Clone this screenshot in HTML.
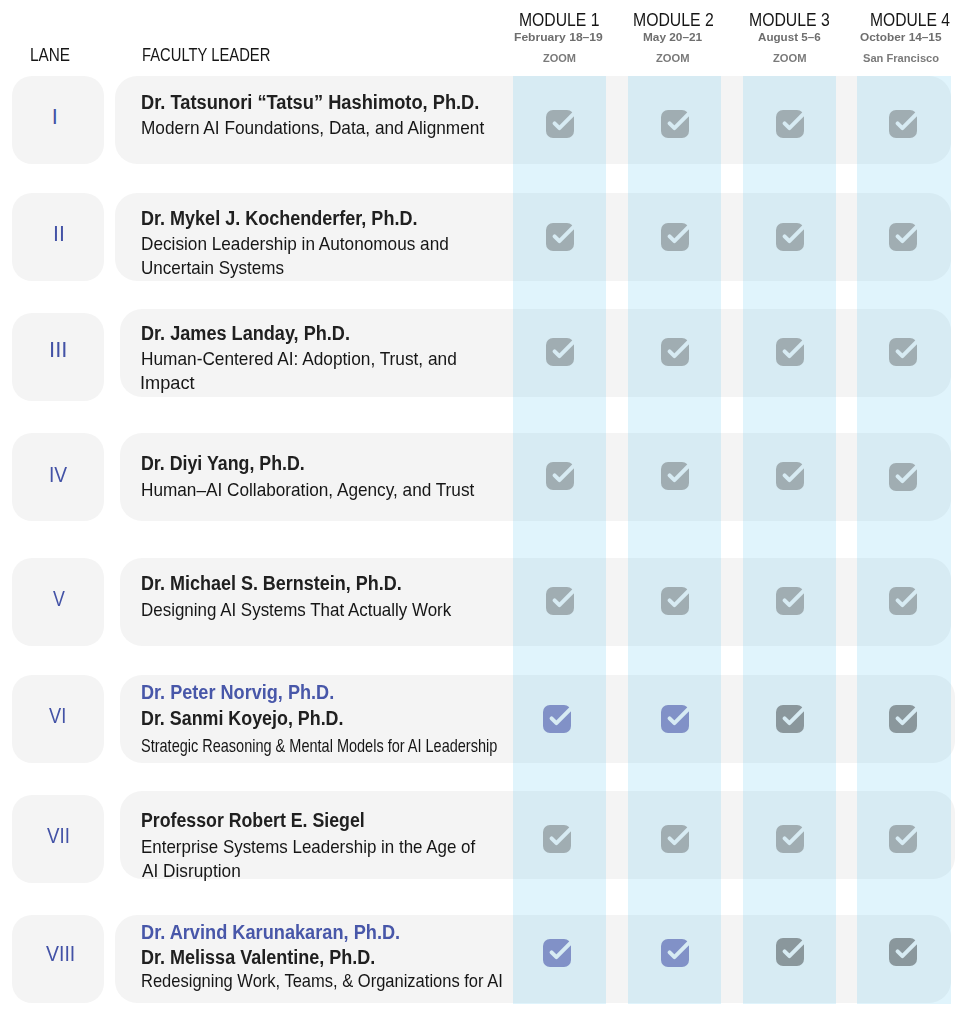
<!DOCTYPE html>
<html><head><meta charset="utf-8"><style>
html,body{margin:0;padding:0;background:#fff;}
body{width:966px;height:1024px;position:relative;overflow:hidden;font-family:"Liberation Sans",sans-serif;}
.t{position:absolute;white-space:nowrap;line-height:1;transform-origin:0 0;}
.lb{position:absolute;left:12px;width:92px;height:88px;border-radius:20px;background:#f4f4f4;}
.fb{position:absolute;height:88px;border-radius:22px;background:#f4f4f4;}
.band{position:absolute;top:76px;height:928px;background:rgba(72,190,237,0.17);}
.ic{position:absolute;width:28px;height:28px;}
</style></head><body>

<div class="fb" style="left:115px;top:76px;width:836px"></div>
<div class="fb" style="left:115px;top:193px;width:836px"></div>
<div class="fb" style="left:120px;top:309px;width:831px"></div>
<div class="fb" style="left:120px;top:433px;width:831px"></div>
<div class="fb" style="left:120px;top:558px;width:831px"></div>
<div class="fb" style="left:120px;top:675px;width:835px"></div>
<div class="fb" style="left:120px;top:791px;width:835px"></div>
<div class="fb" style="left:115px;top:915px;width:836px"></div>
<div class="lb" style="top:76px"></div>
<div class="lb" style="top:193px"></div>
<div class="lb" style="top:313px"></div>
<div class="lb" style="top:433px"></div>
<div class="lb" style="top:558px"></div>
<div class="lb" style="top:675px"></div>
<div class="lb" style="top:795px"></div>
<div class="lb" style="top:915px"></div>
<div class="band" style="left:513px;width:93px"></div>
<div class="band" style="left:628px;width:93px"></div>
<div class="band" style="left:743px;width:93px"></div>
<div class="band" style="left:857px;width:94px"></div>
<svg width="0" height="0" style="position:absolute"><defs><mask id="ck" maskUnits="userSpaceOnUse" x="-2" y="-2" width="32" height="32"><rect x="-2" y="-2" width="32" height="32" fill="#fff"/><path d="M8.6 13.3L13.4 18.1L28.5 3" fill="none" stroke="#000" stroke-width="3.9" stroke-linecap="round" stroke-linejoin="round"/></mask></defs></svg>
<svg class="ic" style="left:545.8px;top:109.8px" viewBox="0 0 28 28"><path fill="#a0adb2" mask="url(#ck)" d="M7 0H21A7 7 0 0 1 28 7V21A7 7 0 0 1 21 28H7A7 7 0 0 1 0 21V7A7 7 0 0 1 7 0Z"/></svg>
<svg class="ic" style="left:660.8px;top:109.8px" viewBox="0 0 28 28"><path fill="#a0adb2" mask="url(#ck)" d="M7 0H21A7 7 0 0 1 28 7V21A7 7 0 0 1 21 28H7A7 7 0 0 1 0 21V7A7 7 0 0 1 7 0Z"/></svg>
<svg class="ic" style="left:775.6px;top:109.8px" viewBox="0 0 28 28"><path fill="#a0adb2" mask="url(#ck)" d="M7 0H21A7 7 0 0 1 28 7V21A7 7 0 0 1 21 28H7A7 7 0 0 1 0 21V7A7 7 0 0 1 7 0Z"/></svg>
<svg class="ic" style="left:889.1px;top:109.8px" viewBox="0 0 28 28"><path fill="#a0adb2" mask="url(#ck)" d="M7 0H21A7 7 0 0 1 28 7V21A7 7 0 0 1 21 28H7A7 7 0 0 1 0 21V7A7 7 0 0 1 7 0Z"/></svg>
<svg class="ic" style="left:545.8px;top:222.9px" viewBox="0 0 28 28"><path fill="#a0adb2" mask="url(#ck)" d="M7 0H21A7 7 0 0 1 28 7V21A7 7 0 0 1 21 28H7A7 7 0 0 1 0 21V7A7 7 0 0 1 7 0Z"/></svg>
<svg class="ic" style="left:660.8px;top:222.9px" viewBox="0 0 28 28"><path fill="#a0adb2" mask="url(#ck)" d="M7 0H21A7 7 0 0 1 28 7V21A7 7 0 0 1 21 28H7A7 7 0 0 1 0 21V7A7 7 0 0 1 7 0Z"/></svg>
<svg class="ic" style="left:775.6px;top:222.9px" viewBox="0 0 28 28"><path fill="#a0adb2" mask="url(#ck)" d="M7 0H21A7 7 0 0 1 28 7V21A7 7 0 0 1 21 28H7A7 7 0 0 1 0 21V7A7 7 0 0 1 7 0Z"/></svg>
<svg class="ic" style="left:889.1px;top:222.9px" viewBox="0 0 28 28"><path fill="#a0adb2" mask="url(#ck)" d="M7 0H21A7 7 0 0 1 28 7V21A7 7 0 0 1 21 28H7A7 7 0 0 1 0 21V7A7 7 0 0 1 7 0Z"/></svg>
<svg class="ic" style="left:545.8px;top:337.5px" viewBox="0 0 28 28"><path fill="#a0adb2" mask="url(#ck)" d="M7 0H21A7 7 0 0 1 28 7V21A7 7 0 0 1 21 28H7A7 7 0 0 1 0 21V7A7 7 0 0 1 7 0Z"/></svg>
<svg class="ic" style="left:660.8px;top:337.5px" viewBox="0 0 28 28"><path fill="#a0adb2" mask="url(#ck)" d="M7 0H21A7 7 0 0 1 28 7V21A7 7 0 0 1 21 28H7A7 7 0 0 1 0 21V7A7 7 0 0 1 7 0Z"/></svg>
<svg class="ic" style="left:775.6px;top:337.5px" viewBox="0 0 28 28"><path fill="#a0adb2" mask="url(#ck)" d="M7 0H21A7 7 0 0 1 28 7V21A7 7 0 0 1 21 28H7A7 7 0 0 1 0 21V7A7 7 0 0 1 7 0Z"/></svg>
<svg class="ic" style="left:889.1px;top:337.5px" viewBox="0 0 28 28"><path fill="#a0adb2" mask="url(#ck)" d="M7 0H21A7 7 0 0 1 28 7V21A7 7 0 0 1 21 28H7A7 7 0 0 1 0 21V7A7 7 0 0 1 7 0Z"/></svg>
<svg class="ic" style="left:545.8px;top:462.0px" viewBox="0 0 28 28"><path fill="#a0adb2" mask="url(#ck)" d="M7 0H21A7 7 0 0 1 28 7V21A7 7 0 0 1 21 28H7A7 7 0 0 1 0 21V7A7 7 0 0 1 7 0Z"/></svg>
<svg class="ic" style="left:660.8px;top:462.0px" viewBox="0 0 28 28"><path fill="#a0adb2" mask="url(#ck)" d="M7 0H21A7 7 0 0 1 28 7V21A7 7 0 0 1 21 28H7A7 7 0 0 1 0 21V7A7 7 0 0 1 7 0Z"/></svg>
<svg class="ic" style="left:775.6px;top:462.0px" viewBox="0 0 28 28"><path fill="#a0adb2" mask="url(#ck)" d="M7 0H21A7 7 0 0 1 28 7V21A7 7 0 0 1 21 28H7A7 7 0 0 1 0 21V7A7 7 0 0 1 7 0Z"/></svg>
<svg class="ic" style="left:889.1px;top:463.4px" viewBox="0 0 28 28"><path fill="#a0adb2" mask="url(#ck)" d="M7 0H21A7 7 0 0 1 28 7V21A7 7 0 0 1 21 28H7A7 7 0 0 1 0 21V7A7 7 0 0 1 7 0Z"/></svg>
<svg class="ic" style="left:545.8px;top:586.9px" viewBox="0 0 28 28"><path fill="#a0adb2" mask="url(#ck)" d="M7 0H21A7 7 0 0 1 28 7V21A7 7 0 0 1 21 28H7A7 7 0 0 1 0 21V7A7 7 0 0 1 7 0Z"/></svg>
<svg class="ic" style="left:660.8px;top:586.9px" viewBox="0 0 28 28"><path fill="#a0adb2" mask="url(#ck)" d="M7 0H21A7 7 0 0 1 28 7V21A7 7 0 0 1 21 28H7A7 7 0 0 1 0 21V7A7 7 0 0 1 7 0Z"/></svg>
<svg class="ic" style="left:775.6px;top:586.9px" viewBox="0 0 28 28"><path fill="#a0adb2" mask="url(#ck)" d="M7 0H21A7 7 0 0 1 28 7V21A7 7 0 0 1 21 28H7A7 7 0 0 1 0 21V7A7 7 0 0 1 7 0Z"/></svg>
<svg class="ic" style="left:889.1px;top:586.9px" viewBox="0 0 28 28"><path fill="#a0adb2" mask="url(#ck)" d="M7 0H21A7 7 0 0 1 28 7V21A7 7 0 0 1 21 28H7A7 7 0 0 1 0 21V7A7 7 0 0 1 7 0Z"/></svg>
<svg class="ic" style="left:543.0px;top:704.8px" viewBox="0 0 28 28"><path fill="#8191c7" mask="url(#ck)" d="M7 0H21A7 7 0 0 1 28 7V21A7 7 0 0 1 21 28H7A7 7 0 0 1 0 21V7A7 7 0 0 1 7 0Z"/></svg>
<svg class="ic" style="left:660.8px;top:704.8px" viewBox="0 0 28 28"><path fill="#8191c7" mask="url(#ck)" d="M7 0H21A7 7 0 0 1 28 7V21A7 7 0 0 1 21 28H7A7 7 0 0 1 0 21V7A7 7 0 0 1 7 0Z"/></svg>
<svg class="ic" style="left:775.6px;top:704.8px" viewBox="0 0 28 28"><path fill="#8a979c" mask="url(#ck)" d="M7 0H21A7 7 0 0 1 28 7V21A7 7 0 0 1 21 28H7A7 7 0 0 1 0 21V7A7 7 0 0 1 7 0Z"/></svg>
<svg class="ic" style="left:889.1px;top:704.8px" viewBox="0 0 28 28"><path fill="#8a979c" mask="url(#ck)" d="M7 0H21A7 7 0 0 1 28 7V21A7 7 0 0 1 21 28H7A7 7 0 0 1 0 21V7A7 7 0 0 1 7 0Z"/></svg>
<svg class="ic" style="left:543.0px;top:825.0px" viewBox="0 0 28 28"><path fill="#a0adb2" mask="url(#ck)" d="M7 0H21A7 7 0 0 1 28 7V21A7 7 0 0 1 21 28H7A7 7 0 0 1 0 21V7A7 7 0 0 1 7 0Z"/></svg>
<svg class="ic" style="left:660.8px;top:825.0px" viewBox="0 0 28 28"><path fill="#a0adb2" mask="url(#ck)" d="M7 0H21A7 7 0 0 1 28 7V21A7 7 0 0 1 21 28H7A7 7 0 0 1 0 21V7A7 7 0 0 1 7 0Z"/></svg>
<svg class="ic" style="left:775.6px;top:825.0px" viewBox="0 0 28 28"><path fill="#a0adb2" mask="url(#ck)" d="M7 0H21A7 7 0 0 1 28 7V21A7 7 0 0 1 21 28H7A7 7 0 0 1 0 21V7A7 7 0 0 1 7 0Z"/></svg>
<svg class="ic" style="left:889.1px;top:825.0px" viewBox="0 0 28 28"><path fill="#a0adb2" mask="url(#ck)" d="M7 0H21A7 7 0 0 1 28 7V21A7 7 0 0 1 21 28H7A7 7 0 0 1 0 21V7A7 7 0 0 1 7 0Z"/></svg>
<svg class="ic" style="left:543.0px;top:939.2px" viewBox="0 0 28 28"><path fill="#8191c7" mask="url(#ck)" d="M7 0H21A7 7 0 0 1 28 7V21A7 7 0 0 1 21 28H7A7 7 0 0 1 0 21V7A7 7 0 0 1 7 0Z"/></svg>
<svg class="ic" style="left:660.8px;top:939.2px" viewBox="0 0 28 28"><path fill="#8191c7" mask="url(#ck)" d="M7 0H21A7 7 0 0 1 28 7V21A7 7 0 0 1 21 28H7A7 7 0 0 1 0 21V7A7 7 0 0 1 7 0Z"/></svg>
<svg class="ic" style="left:775.6px;top:937.7px" viewBox="0 0 28 28"><path fill="#8a979c" mask="url(#ck)" d="M7 0H21A7 7 0 0 1 28 7V21A7 7 0 0 1 21 28H7A7 7 0 0 1 0 21V7A7 7 0 0 1 7 0Z"/></svg>
<svg class="ic" style="left:889.1px;top:937.7px" viewBox="0 0 28 28"><path fill="#8a979c" mask="url(#ck)" d="M7 0H21A7 7 0 0 1 28 7V21A7 7 0 0 1 21 28H7A7 7 0 0 1 0 21V7A7 7 0 0 1 7 0Z"/></svg>
<div class="t" style="left:29.75px;top:45.96px;font-size:18.0px;font-weight:400;color:#161616;transform:scaleX(0.8511)">LANE</div>
<div class="t" style="left:141.58px;top:45.96px;font-size:18.0px;font-weight:400;color:#161616;transform:scaleX(0.8206)">FACULTY LEADER</div>
<div class="t" style="left:519.03px;top:11.46px;font-size:18.0px;font-weight:400;color:#161616;transform:scaleX(0.8744)">MODULE 1</div>
<div class="t" style="left:632.52px;top:11.46px;font-size:18.0px;font-weight:400;color:#161616;transform:scaleX(0.8778)">MODULE 2</div>
<div class="t" style="left:749.22px;top:11.46px;font-size:18.0px;font-weight:400;color:#161616;transform:scaleX(0.8778)">MODULE 3</div>
<div class="t" style="left:869.73px;top:11.46px;font-size:18.0px;font-weight:400;color:#161616;transform:scaleX(0.8681)">MODULE 4</div>
<div class="t" style="left:514.37px;top:31.51px;font-size:11.8px;font-weight:700;color:#6e6e6e;transform:scaleX(1.0259)">February 18–19</div>
<div class="t" style="left:642.60px;top:31.51px;font-size:11.8px;font-weight:700;color:#6e6e6e;transform:scaleX(1.0017)">May 20–21</div>
<div class="t" style="left:758.30px;top:31.51px;font-size:11.8px;font-weight:700;color:#6e6e6e;transform:scaleX(0.9857)">August 5–6</div>
<div class="t" style="left:859.70px;top:31.51px;font-size:11.8px;font-weight:700;color:#6e6e6e;transform:scaleX(1.0025)">October 14–15</div>
<div class="t" style="left:542.70px;top:51.58px;font-size:11.6px;font-weight:700;color:#7a7a7a;transform:scaleX(0.9500)">ZOOM</div>
<div class="t" style="left:656.00px;top:51.58px;font-size:11.6px;font-weight:700;color:#7a7a7a;transform:scaleX(0.9647)">ZOOM</div>
<div class="t" style="left:772.70px;top:51.58px;font-size:11.6px;font-weight:700;color:#7a7a7a;transform:scaleX(0.9647)">ZOOM</div>
<div class="t" style="left:862.60px;top:51.58px;font-size:11.6px;font-weight:700;color:#7a7a7a;transform:scaleX(0.9595)">San Francisco</div>
<div class="t" style="left:140.66px;top:92.69px;font-size:19.5px;font-weight:700;color:#202020;transform:scaleX(0.9370)">Dr. Tatsunori “Tatsu” Hashimoto, Ph.D.</div>
<div class="t" style="left:140.63px;top:119.72px;font-size:17.7px;font-weight:400;color:#161616;transform:scaleX(0.9749)">Modern AI Foundations, Data, and Alignment</div>
<div class="t" style="left:140.68px;top:208.99px;font-size:19.5px;font-weight:700;color:#202020;transform:scaleX(0.9242)">Dr. Mykel J. Kochenderfer, Ph.D.</div>
<div class="t" style="left:140.63px;top:236.02px;font-size:17.7px;font-weight:400;color:#161616;transform:scaleX(0.9721)">Decision Leadership in Autonomous and</div>
<div class="t" style="left:140.64px;top:259.62px;font-size:17.7px;font-weight:400;color:#161616;transform:scaleX(0.9633)">Uncertain Systems</div>
<div class="t" style="left:140.67px;top:323.99px;font-size:19.5px;font-weight:700;color:#202020;transform:scaleX(0.9283)">Dr. James Landay, Ph.D.</div>
<div class="t" style="left:140.62px;top:351.02px;font-size:17.7px;font-weight:400;color:#161616;transform:scaleX(0.9761)">Human-Centered AI: Adoption, Trust, and</div>
<div class="t" style="left:139.54px;top:374.52px;font-size:17.7px;font-weight:400;color:#161616;transform:scaleX(1.0294)">Impact</div>
<div class="t" style="left:140.69px;top:454.09px;font-size:19.5px;font-weight:700;color:#202020;transform:scaleX(0.9124)">Dr. Diyi Yang, Ph.D.</div>
<div class="t" style="left:140.63px;top:482.22px;font-size:17.7px;font-weight:400;color:#161616;transform:scaleX(0.9722)">Human–AI Collaboration, Agency, and Trust</div>
<div class="t" style="left:140.68px;top:574.29px;font-size:19.5px;font-weight:700;color:#202020;transform:scaleX(0.9217)">Dr. Michael S. Bernstein, Ph.D.</div>
<div class="t" style="left:140.64px;top:602.22px;font-size:17.7px;font-weight:400;color:#161616;transform:scaleX(0.9582)">Designing AI Systems That Actually Work</div>
<div class="t" style="left:140.67px;top:682.69px;font-size:19.5px;font-weight:700;color:#4857a9;transform:scaleX(0.9286)">Dr. Peter Norvig, Ph.D.</div>
<div class="t" style="left:140.68px;top:708.79px;font-size:19.5px;font-weight:700;color:#202020;transform:scaleX(0.9160)">Dr. Sanmi Koyejo, Ph.D.</div>
<div class="t" style="left:140.78px;top:737.62px;font-size:17.7px;font-weight:400;color:#161616;transform:scaleX(0.8199)">Strategic Reasoning &amp; Mental Models for AI Leadership</div>
<div class="t" style="left:140.69px;top:810.89px;font-size:19.5px;font-weight:700;color:#202020;transform:scaleX(0.9094)">Professor Robert E. Siegel</div>
<div class="t" style="left:140.64px;top:838.62px;font-size:17.7px;font-weight:400;color:#161616;transform:scaleX(0.9575)">Enterprise Systems Leadership in the Age of</div>
<div class="t" style="left:141.60px;top:863.22px;font-size:17.7px;font-weight:400;color:#161616;transform:scaleX(0.9750)">AI Disruption</div>
<div class="t" style="left:140.67px;top:922.99px;font-size:19.5px;font-weight:700;color:#4857a9;transform:scaleX(0.9330)">Dr. Arvind Karunakaran, Ph.D.</div>
<div class="t" style="left:140.68px;top:947.89px;font-size:19.5px;font-weight:700;color:#202020;transform:scaleX(0.9242)">Dr. Melissa Valentine, Ph.D.</div>
<div class="t" style="left:140.67px;top:973.02px;font-size:17.7px;font-weight:400;color:#161616;transform:scaleX(0.9332)">Redesigning Work, Teams, &amp; Organizations for AI</div>
<div class="t" style="left:51.80px;top:106.04px;font-size:21.8px;font-weight:400;color:#4352a6;transform:scaleX(1.0000)">I</div>
<div class="t" style="left:52.55px;top:222.84px;font-size:21.8px;font-weight:400;color:#4352a6;transform:scaleX(0.9750)">II</div>
<div class="t" style="left:49.17px;top:339.24px;font-size:21.8px;font-weight:400;color:#4352a6;transform:scaleX(1.0143)">III</div>
<div class="t" style="left:49.33px;top:463.84px;font-size:21.8px;font-weight:400;color:#4352a6;transform:scaleX(0.8833)">IV</div>
<div class="t" style="left:52.50px;top:588.04px;font-size:21.8px;font-weight:400;color:#4352a6;transform:scaleX(0.8143)">V</div>
<div class="t" style="left:49.40px;top:704.94px;font-size:21.8px;font-weight:400;color:#4352a6;transform:scaleX(0.8368)">VI</div>
<div class="t" style="left:46.80px;top:825.04px;font-size:21.8px;font-weight:400;color:#4352a6;transform:scaleX(0.8560)">VII</div>
<div class="t" style="left:45.80px;top:942.74px;font-size:21.8px;font-weight:400;color:#4352a6;transform:scaleX(0.8935)">VIII</div>
</body></html>
